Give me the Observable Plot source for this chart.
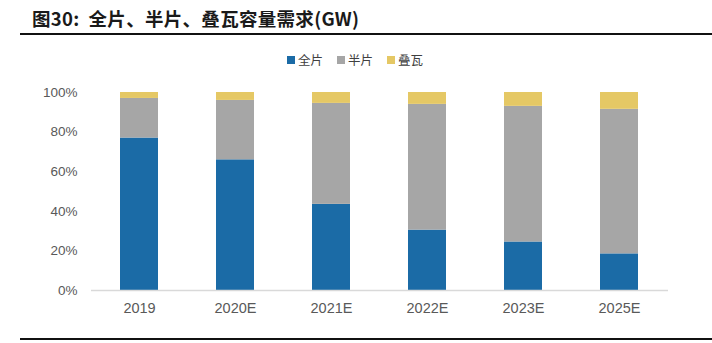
<!DOCTYPE html>
<html><head><meta charset="utf-8">
<script src="https://cdn.jsdelivr.net/npm/d3@7"></script>
<script src="https://cdn.jsdelivr.net/npm/@observablehq/plot@0.6"></script>
<style>
body{margin:0;background:#fff;}
#wrap{position:relative;width:712px;height:343px;overflow:hidden;font-family:"Liberation Sans",Arial,sans-serif;}
#title{position:absolute;left:32px;top:5px;font-family:"Noto Sans CJK SC",sans-serif;font-weight:700;font-size:18.5px;color:#1a1a1a;white-space:pre;letter-spacing:0.3px;}
.rule{position:absolute;left:20px;right:0;height:2px;background:#111;}
#legend{position:absolute;top:50px;left:287px;font-family:"Noto Sans CJK SC",sans-serif;font-size:12.5px;color:#404040;display:flex;gap:0;white-space:nowrap;}
#legend span{display:inline-flex;align-items:center;margin-right:14px;}
#legend i{display:inline-block;width:8px;height:8px;margin-right:3px;}
#chart{position:absolute;left:0;top:0;}
</style></head>
<body><div id="wrap">
<div id="chart"></div>
<div id="title">图30:  全片、半片、叠瓦容量需求(GW)</div>
<div class="rule" style="top:33px"></div>
<div class="rule" style="top:338px"></div>
<div id="legend"></div>
</div>
<script>
const years = ["2019","2020E","2021E","2022E","2023E","2025E"];
const seriesNames = ["全片","半片","叠瓦"];
const quanpian = [77, 66, 43.5, 30.5, 24.5, 18.5];
const banpian = [20, 30, 51, 63.5, 68.5, 73];
const diewa = [3, 4, 5.5, 6, 7, 8.5];
const colors = ["#1b6ba6","#a6a6a6","#e5c865"];
const yTicks = [0,20,40,60,80,100];

const seriesValues = [quanpian, banpian, diewa];
const data = [];
seriesNames.forEach((s, si) => years.forEach((y, yi) => data.push({year: y, series: s, value: seriesValues[si][yi]})));

const chart = Plot.plot({
  width: 712, height: 343,
  marginTop: 92, marginBottom: 53, marginLeft: 91, marginRight: 44,
  style: {fontFamily: '"Liberation Sans", Arial, sans-serif', fontSize: "13.5px", color: "#595959", background: "transparent"},
  x: {domain: years, paddingInner: 0.6, paddingOuter: 0.3, label: null},
  y: {domain: [0, 100], label: null},
  color: {domain: seriesNames, range: colors},
  marks: [
    Plot.barY(data, {x: "year", y: "value", fill: "series", order: seriesNames}),
    Plot.ruleY([0], {stroke: "#d9d9d9", strokeWidth: 1.5}),
    Plot.axisY({ticks: yTicks, tickSize: 0, tickPadding: 14, tickFormat: d => d + "%", label: null, fill: "#595959", fontSize: 13.5}),
    Plot.axisX({tickSize: 0, tickPadding: 12, label: null, fill: "#595959", fontSize: 14.5})
  ]
});
document.getElementById("chart").appendChild(chart);

const lg = document.getElementById("legend");
seriesNames.forEach((s, i) => {
  const sp = document.createElement("span");
  sp.innerHTML = `<i style="background:${colors[i]}"></i>${s}`;
  lg.appendChild(sp);
});
</script>
</body></html>
